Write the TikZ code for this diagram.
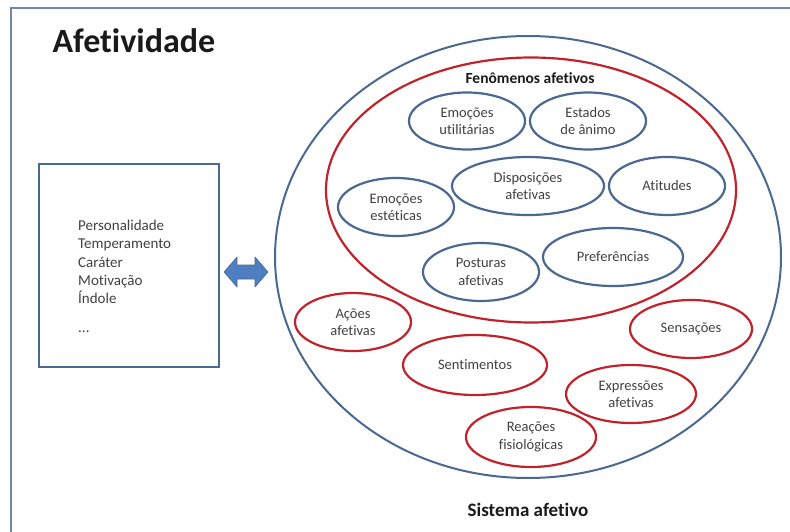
\documentclass[tikz,border=0pt]{standalone}
\usepackage{fontspec}
\setmainfont{Carlito}[Ligatures=NoCommon]
\usetikzlibrary{shapes.geometric}
\definecolor{frameblue}{HTML}{7088B0}
\definecolor{ovalblue}{HTML}{4A6890}
\definecolor{ovalred}{HTML}{C0232C}
\definecolor{arrowblue}{HTML}{4F7FC0}
\definecolor{labelgray}{HTML}{404040}
\definecolor{titleblack}{HTML}{1A1A1A}
\begin{document}
\begin{tikzpicture}[x=1pt, y=-1pt,
		bluering/.style={ellipse, draw=ovalblue, line width=2.2pt, inner sep=0pt, align=center,
			text=labelgray, font=\fontsize{14.5}{17.5}\selectfont},
		redring/.style={bluering, draw=ovalred},
		heading/.style={text=titleblack, font=\bfseries\fontsize{#1}{#1}\selectfont}]
		\useasboundingbox (0,0) rectangle (790,532);
		\draw[frameblue, line width=2.5pt] (11,540) -- (11,8) -- (800,8);
		
		\node[heading=34, anchor=base west] (titulo) at (49,53) {Afetividade};
		
		% caixa da esquerda
		\node[draw=ovalblue, line width=2pt, minimum width=180pt, minimum height=203pt] (tracos) at (129,265.5) {};
		\node[anchor=north west, align=left, inner sep=0pt, text=labelgray,
			font=\fontsize{15}{18.3}\selectfont] (lista) at (78,220)
			{Personalidade\\Temperamento\\Caráter\\Motivação\\Índole\\[10pt]...};
		
		% seta dupla
		\coordinate (elo) at (246,272);
		\filldraw[shift={(elo)}, fill=arrowblue, draw=ovalblue, line width=0.6pt, line join=round]
			(-22,0) -- (-9,-15) -- (-9,-7) -- (9,-7) -- (9,-15) -- (22,0)
			-- (9,15) -- (9,7) -- (-9,7) -- (-9,15) -- cycle;
		
		% sistema afetivo
		\node[ellipse, draw=ovalblue, line width=2pt, minimum width=506pt, minimum height=442pt] (sistema) at (528,257) {};
		\node[ellipse, draw=ovalred, line width=2.2pt, minimum width=410pt, minimum height=265pt] (fenomenos) at (531,190) {};
		\node[heading=15.5] (fenlabel) at (530,78) {Fenômenos afetivos};
		\node[heading=19] (sislabel) at (528,510) {Sistema afetivo};
		
		\node[bluering, minimum width=116pt, minimum height=57pt] (utilit) at (467,121) {Emoções\\utilitárias};
		\node[bluering, minimum width=116pt, minimum height=57pt] (animo) at (588,121) {Estados\\de ânimo};
		\node[bluering, minimum width=152pt, minimum height=58pt] (dispos) at (528,186) {Disposições\\afetivas};
		\node[bluering, minimum width=116pt, minimum height=58pt] (atitudes) at (667,186) {Atitudes};
		\node[bluering, minimum width=116pt, minimum height=58pt] (estet) at (396,207) {Emoções\\estéticas};
		\node[bluering, minimum width=116pt, minimum height=58pt] (posturas) at (481,272) {Posturas\\afetivas};
		\node[bluering, minimum width=140pt, minimum height=58pt] (prefer) at (613,257) {Preferências};
		
		\node[redring, minimum width=116pt, minimum height=58pt] (acoes) at (353,322) {Ações\\afetivas};
		\node[redring, minimum width=144pt, minimum height=60pt] (sentim) at (475,365) {Sentimentos};
		\node[redring, minimum width=122pt, minimum height=58pt] (sensac) at (691,329) {Sensações};
		\node[redring, minimum width=130pt, minimum height=58pt] (express) at (631,394) {Expressões\\afetivas};
		\node[redring, minimum width=130pt, minimum height=60pt] (reacoes) at (531,437) {Reações\\fisiológicas};
	\end{tikzpicture}
\end{document}
